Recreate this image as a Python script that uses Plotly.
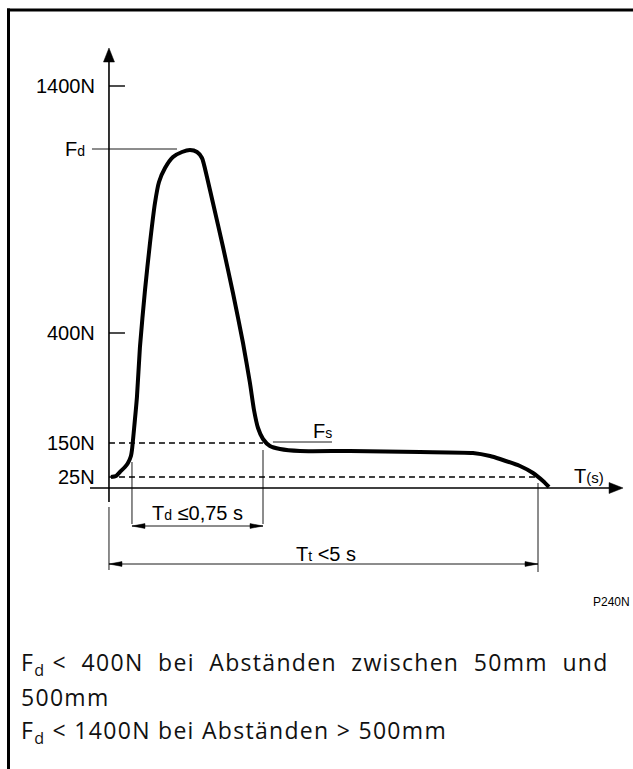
import plotly.graph_objects as go

W, H = 633, 769

# ---- data (schematic force/time diagram) ----
# time in seconds, force in schematic display levels
t_curve = [0.023, 0.082, 0.128, 0.186, 0.221, 0.256, 0.268, 0.291, 0.326, 0.361, 0.420, 0.478,
           0.536, 0.583, 0.653, 0.746, 0.851, 0.944, 1.026, 1.084, 1.142, 1.212, 1.329, 1.445,
           1.562, 1.643, 1.690, 1.737, 1.795, 1.876, 1.993, 2.226, 2.809, 3.625, 4.242, 4.441,
           4.557, 4.790, 4.942, 5.058, 5.128]
f_curve = [11, 12, 16, 21, 25, 32, 38, 58, 91, 141, 198, 245,
           285, 306, 320, 331, 336, 338, 336, 330, 311, 285, 241, 195,
           145, 105, 78, 60, 49, 42, 39, 37, 37, 36, 35, 32,
           29, 22, 15, 7, 1]

force_tick_labels = ["25N", "150N", "400N", "1400N"]
force_tick_levels = [11, 45, 155, 402]
force_tick_marks = [False, False, True, True]
dashed_levels = [11, 45]
dashed_ends = [4.988, 1.795]

fd_label = "F<span style='font-size:14px'>d</span>"
fd_level = 339
fd_leader_end = 0.793
fs_label = "F<span style='font-size:14px'>s</span>"
fs_level = 46
fs_leader = [1.911, 2.599]
fs_label_pos = [2.494, 57]

td_range = [0.268, 1.795]
td_label = "T<span style='font-size:14px'>d</span> \u22640,75 s"
tt_range = [0.0, 5.0]
tt_label = "T<span style='font-size:14px'>t</span> <5 s"
x_axis_label = "T<span style='font-size:15px'>(s)</span>"

note_lines = ["F<sub>d</sub> &lt;\u00a0 400N\u00a0 bei\u00a0 Abständen\u00a0 zwischen\u00a0 50mm\u00a0 und",
              "500mm",
              "F<sub>d</sub> &lt; 1400N bei Abständen &gt; 500mm"]
note_y = [663, 697, 731]
figure_code = "P240N"

# ---- axes geometry ----
X0, X1 = -1.27, 6.107
Y0, Y1 = -281, 488
sx = W / (X1 - X0)
sy = H / (Y1 - Y0)

y_axis_ext = [-14, 440]
x_axis_ext = [-0.221, 5.991]

BLACK = "#000000"
fig = go.Figure()


def line(xs, ys, width=1.0, dash=None, color=BLACK):
    fig.add_trace(go.Scatter(x=xs, y=ys, mode="lines", hoverinfo="skip",
                             line=dict(color=color, width=width, dash=dash),
                             showlegend=False))


def tri(x, y, direction, L, hw):
    # L, hw in pixels
    dx, dy = L / sx, L / sy
    wx, wy = hw / sx, hw / sy
    if direction == "up":
        xs, ys = [x, x - wx, x + wx, x], [y, y - dy, y - dy, y]
    elif direction == "right":
        xs, ys = [x, x - dx, x - dx, x], [y, y + wy, y - wy, y]
    else:  # left
        xs, ys = [x, x + dx, x + dx, x], [y, y + wy, y - wy, y]
    fig.add_trace(go.Scatter(x=xs, y=ys, mode="lines", fill="toself", fillcolor=BLACK,
                             line=dict(color=BLACK, width=0.5), hoverinfo="skip",
                             showlegend=False))


# dashed reference lines
for lv, xe in zip(dashed_levels, dashed_ends):
    line([0, xe], [lv, lv], width=1.4, dash="6px,4px")

# axes
line([0, 0], [y_axis_ext[0], y_axis_ext[1] - 14 / sy], width=1.6)
tri(0, y_axis_ext[1], "up", 14, 5.5)
line([x_axis_ext[0], x_axis_ext[1] - 14 / sx], [0, 0], width=1.6)
tri(x_axis_ext[1], 0, "right", 14, 5.5)

# tick marks
for lv, mk in zip(force_tick_levels, force_tick_marks):
    if mk:
        line([0, 16 / sx], [lv, lv], width=1.4)

# Fd / Fs leaders
line([-17 / sx, fd_leader_end], [fd_level, fd_level], width=0.9)
line(fs_leader, [fs_level, fs_level], width=0.9)

# Td dimension
td_y = -38
line([td_range[0], td_range[0]], [26, td_y + 2], width=0.9)
line([td_range[1], td_range[1]], [38, td_y + 2], width=0.9)
line(td_range, [td_y, td_y], width=0.9)
tri(td_range[0], td_y, "left", 13, 2.4)
tri(td_range[1], td_y, "right", 13, 2.4)

# Tt dimension
tt_y = -76
line([tt_range[0], tt_range[0]], [-19, -82], width=0.9)
line([tt_range[1], tt_range[1]], [5, -84], width=0.9)
line(tt_range, [tt_y, tt_y], width=0.9)
tri(tt_range[0], tt_y, "left", 13, 2.4)
tri(tt_range[1], tt_y, "right", 13, 2.4)

# main curve
fig.add_trace(go.Scatter(x=t_curve, y=f_curve, mode="lines", hoverinfo="skip",
                         line=dict(color=BLACK, width=4, shape="spline", smoothing=0.6),
                         showlegend=False))

ann = []
lab_font = dict(family="Liberation Sans, Arial, sans-serif", size=20, color=BLACK)
for txt, lv in zip(force_tick_labels, force_tick_levels):
    ann.append(dict(x=-12 / sx, y=lv, text=txt, xanchor="right", yanchor="middle",
                    showarrow=False, font=lab_font))
ann.append(dict(x=-22 / sx, y=fd_level, text=fd_label, xanchor="right", yanchor="middle",
                showarrow=False, font=lab_font))
ann.append(dict(x=fs_label_pos[0], y=fs_label_pos[1], text=fs_label,
                xanchor="center", yanchor="middle", showarrow=False, font=lab_font))
ann.append(dict(x=(td_range[0] + td_range[1]) / 2, y=td_y + 13, text=td_label,
                xanchor="center", yanchor="middle", showarrow=False, font=lab_font))
ann.append(dict(x=(tt_range[0] + tt_range[1]) / 2 + 0.03, y=tt_y + 10, text=tt_label,
                xanchor="center", yanchor="middle", showarrow=False, font=lab_font))
ann.append(dict(x=x_axis_ext[1] - 51 / sx, y=12, text=x_axis_label,
                xanchor="left", yanchor="middle", showarrow=False, font=lab_font))

ann.append(dict(xref="paper", yref="paper", x=632 / W, y=1 - 602 / H, text=figure_code,
                xanchor="right", yanchor="middle", showarrow=False,
                font=dict(family="Liberation Sans, Arial", size=12, color=BLACK)))
note_font = dict(family="Open Sans, Noto Sans, sans-serif", size=23, color="#111111")
for txt, yy in zip(note_lines, note_y):
    ann.append(dict(xref="paper", yref="paper", x=19 / W, y=1 - yy / H,
                    text="<span style='letter-spacing:1.3px'>" + txt + "</span>",
                    xanchor="left", yanchor="middle", showarrow=False, font=note_font))

shapes = [
    dict(type="line", xref="paper", yref="paper", x0=8.5 / W, x1=8.5 / W, y0=1 - 8.5 / H, y1=0,
         line=dict(color=BLACK, width=3)),
    dict(type="line", xref="paper", yref="paper", x0=7 / W, x1=1, y0=1 - 10 / H, y1=1 - 10 / H,
         line=dict(color=BLACK, width=3)),
]

fig.update_layout(
    width=W, height=H, margin=dict(l=0, r=0, t=0, b=0),
    paper_bgcolor="white", plot_bgcolor="white",
    xaxis=dict(range=[X0, X1], visible=False, fixedrange=True),
    yaxis=dict(range=[Y0, Y1], visible=False, fixedrange=True),
    annotations=ann, shapes=shapes, showlegend=False,
)

fig.write_html("out.html", config={"displayModeBar": False, "staticPlot": True},
               post_script="document.body.style.margin='0px';document.body.style.overflow='hidden';")
